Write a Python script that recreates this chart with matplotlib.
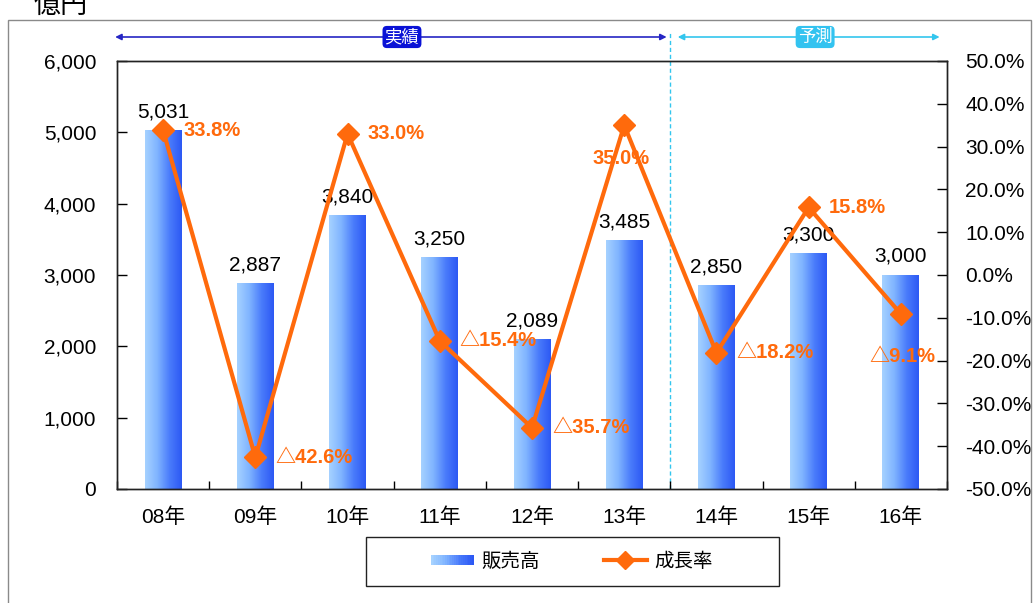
import matplotlib
matplotlib.use("Agg")
import matplotlib.pyplot as plt
import numpy as np
from matplotlib.colors import LinearSegmentedColormap
from matplotlib.patches import Rectangle
from matplotlib.legend_handler import HandlerBase
from matplotlib.lines import Line2D
import matplotlib.transforms as mtransforms

plt.rcParams['font.family'] = ['Liberation Sans', 'Noto Sans CJK JP', 'DejaVu Sans']

# ---- data ----
years = ["08年", "09年", "10年", "11年", "12年", "13年", "14年", "15年", "16年"]
sales = [5031, 2887, 3840, 3250, 2089, 3485, 2850, 3300, 3000]          # 億円
growth = [33.8, -42.6, 33.0, -15.4, -35.7, 35.0, -18.2, 15.8, -9.1]     # %
left_ticks = [0, 1000, 2000, 3000, 4000, 5000, 6000]
left_ticklabels = ["0", "1,000", "2,000", "3,000", "4,000", "5,000", "6,000"]
right_ticks = [-50, -40, -30, -20, -10, 0, 10, 20, 30, 40, 50]
right_ticklabels = ["-50.0%", "-40.0%", "-30.0%", "-20.0%", "-10.0%", "0.0%",
                    "10.0%", "20.0%", "30.0%", "40.0%", "50.0%"]
n_actual = 6  # 08年〜13年 are actual results, the rest forecasts

ORANGE = "#ff6a0c"
bar_cmap = LinearSegmentedColormap.from_list(
    "barblue", ["#a6d2ff", "#80b4ff", "#4a7cfb", "#2c58f4"])

W, H = 1034, 603
fig = plt.figure(figsize=(W / 100, H / 100), dpi=100)

def fx(px):
    return px / W

def fy(py):
    return 1 - py / H

ax = fig.add_axes([fx(117), fy(489), fx(947) - fx(117), fy(61) - fy(489)])
x = np.arange(len(years))

# gradient-filled bars
bar_w = 0.40
bars = ax.bar(x, sales, width=bar_w, facecolor="none", edgecolor="none", zorder=2)
grad = np.linspace(0, 1, 256).reshape(1, -1)
for rect in bars:
    x0, w, h = rect.get_x(), rect.get_width(), rect.get_height()
    ax.imshow(grad, extent=[x0, x0 + w, 0, h], cmap=bar_cmap, aspect="auto",
              interpolation="bilinear", zorder=2)

ax.set_xlim(-0.5, len(years) - 0.5)
ax.set_ylim(0, 6000)
ax.set_yticks(left_ticks)
ax.set_yticklabels(left_ticklabels)
ax.set_xticks(x)
ax.set_xticklabels(years)
ax.set_xticks(np.arange(-0.5, len(years), 1.0), minor=True)
ax.tick_params(axis="y", direction="in", length=7, pad=15, labelsize=15, width=1)
ax.tick_params(axis="x", which="major", length=0, pad=13, labelsize=15)
ax.tick_params(axis="x", which="minor", direction="in", length=6, width=1)
for s in ax.spines.values():
    s.set_color("#222222")
    s.set_linewidth(1)

# sales value labels
for xi, v in zip(x, sales):
    ax.annotate(f"{v:,}", (xi, v), xytext=(0, 13), textcoords="offset pixels",
                ha="center", va="baseline", fontsize=15, color="black", zorder=5)

# growth rate on secondary axis
ax2 = ax.twinx()
ax2.plot(x, growth, color=ORANGE, lw=3, marker="D", ms=11.5, zorder=4)
ax2.set_ylim(-50, 50)
ax2.set_yticks(right_ticks)
ax2.set_yticklabels(right_ticklabels)
ax2.tick_params(axis="y", direction="in", length=7, pad=13, labelsize=15, width=1)
for s in ax2.spines.values():
    s.set_color("#222222")
    s.set_linewidth(1)

# growth labels: most to the right of the marker, two below it
label_offsets = [(20, 0), (20, 0), (20, 0), (20, 0), (20, 0),
                 (-3, -33), (20, 0), (20, 0), (2, -43)]
for xi, g, (dx, dy) in zip(x, growth, label_offsets):
    txt = f"{g:.1f}%" if g >= 0 else f"△{abs(g):.1f}%"
    ha = "left" if dx > 5 else "center"
    ax2.annotate(txt, (xi, g), xytext=(dx, dy), textcoords="offset pixels",
                 ha=ha, va="center", fontsize=14.5, fontweight="bold",
                 color=ORANGE, zorder=6)

# actual / forecast divider and header arrows
split = n_actual - 0.5
trans = mtransforms.blended_transform_factory(ax.transData, ax.transAxes)
ax.plot([split, split], [0, 1.07], transform=trans, color="#33c6ee",
        lw=1, ls=(0, (3, 2)), clip_on=False, zorder=1)
y_arr = (fy(37) - fy(489)) / (fy(61) - fy(489))

ax.annotate("", xy=(-0.52, y_arr), xytext=(split - 0.04, y_arr),
            xycoords=trans, textcoords=trans,
            arrowprops=dict(arrowstyle="<|-|>", color="#2626c4", lw=1.2,
                            mutation_scale=9, shrinkA=0, shrinkB=0))
ax.annotate("", xy=(split + 0.08, y_arr), xytext=(len(years) - 0.58, y_arr),
            xycoords=trans, textcoords=trans,
            arrowprops=dict(arrowstyle="<|-|>", color="#33c6ee", lw=1.2,
                            mutation_scale=9, shrinkA=0, shrinkB=0))
box_font = ['Noto Sans CJK JP', 'DejaVu Sans']
ax.text(2.59, y_arr, "実績", transform=trans, ha="center", va="center",
        fontsize=12.5, color="white", zorder=5, family=box_font,
        bbox=dict(boxstyle="round,pad=0.12,rounding_size=0.25",
                  fc="#0a12d6", ec="none"))
ax.text(7.07, y_arr, "予測", transform=trans, ha="center", va="center",
        fontsize=12.5, color="white", zorder=5, family=box_font,
        bbox=dict(boxstyle="round,pad=0.12,rounding_size=0.25",
                  fc="#33c3f0", ec="none"))

# outer chart frame
fig.add_artist(Rectangle((fx(8), fy(640)), fx(1031) - fx(8), fy(20) - fy(640),
                         transform=fig.transFigure, fill=False,
                         ec="#8a8a8a", lw=1))

# unit label
fig.text(fx(34), fy(13), "億円", ha="left", va="baseline", fontsize=19.5,
         color="black", family=box_font)


# legend with a gradient swatch
class GradientHandler(HandlerBase):
    def create_artists(self, legend, orig_handle, xdescent, ydescent,
                       width, height, fontsize, trans):
        n = 24
        arts = []
        hh = height * 0.75
        y0 = -ydescent + (height - hh) / 2
        for i in range(n):
            r = Rectangle((-xdescent + width * i / n, y0), width / n + 0.3, hh,
                          fc=bar_cmap(i / (n - 1)), ec="none", transform=trans)
            arts.append(r)
        return arts


sales_handle = Rectangle((0, 0), 1, 1)
growth_handle = Line2D([], [], color=ORANGE, lw=3, marker="D", ms=9)
fig.add_artist(Rectangle((fx(366), fy(586)), fx(779) - fx(366), fy(537) - fy(586),
                         transform=fig.transFigure, fill=False,
                         ec="#222222", lw=1))
fig.legend([sales_handle, growth_handle], ["販売高", "成長率"],
           handler_map={Rectangle: GradientHandler()},
           loc="center", bbox_to_anchor=(fx(572), fy(561.5)), ncol=2,
           frameon=False, prop=dict(family=box_font, size=14),
           handlelength=2.2, handletextpad=0.4, columnspacing=3.3)

fig.savefig("out.png", dpi=100)
